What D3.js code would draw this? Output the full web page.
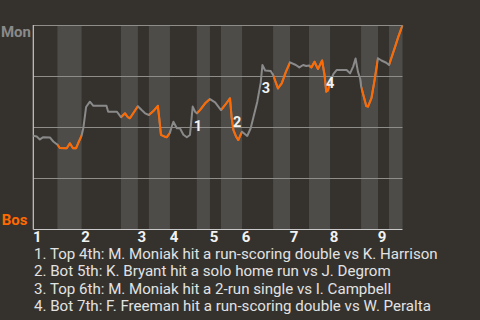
<!DOCTYPE html>
<html>
<head>
<meta charset="utf-8">
<script src="https://cdn.jsdelivr.net/npm/d3@7"></script>
<style>
  html, body { margin: 0; padding: 0; background: #35322e; }
  svg { display: block; }
</style>
</head>
<body>
<svg id="chart" width="480" height="320"></svg>
<script>
// ---- data ----
const teams = ["Mon", "Bos"];            // top = Mon win, bottom = Bos win
const inningLabels = ["1","2","3","4","5","6","7","8","9"];
// half-inning boundaries in play index (top1, bot1, top2, ... end)
const halfInningBounds = [0, 7, 14, 25.4, 30.3, 33.5, 39.6, 47.4, 51.2, 54.4, 60.5, 69.5, 74.4, 79.9, 86, 95, 99.9, 103.1, 107];
// play index of each win-probability point
const playIdx = [0,1,1.9,2.9,4.8,5.8,7,7.7,9.7,10.6,11.5,12.4,13.2,14,14.5,15.3,16.4,17.4,21.2,21.7,24.2,24.6,25.4,26.6,27.4,28,30.3,31.4,32.4,33.5,34.8,36.1,36.5,37,38.2,38.7,39.6,40.1,40.6,41.6,42.5,43.5,44.5,45.4,46.2,46.9,47.4,48.3,49.8,51.2,52.7,54.4,55.6,57,57.5,58,58.8,59.4,60.5,62,63,64.9,65.9,66.4,67.2,68.8,69.5,70.9,72,73.2,74.4,76.1,77.1,78.2,79.1,79.9,80.6,81.5,82.5,83.7,84.4,84.9,85.4,86,87,87.9,90.8,91.8,92.7,93.4,94.1,94.7,95,96.5,97,98,98.9,99.9,100.9,102.3,103.1,104.8,105.8,107];
// Mon win probability
const monWinProb = [0.457,0.453,0.439,0.450,0.449,0.429,0.413,0.397,0.396,0.420,0.396,0.396,0.428,0.457,0.495,0.598,0.624,0.604,0.604,0.575,0.575,0.567,0.548,0.567,0.548,0.543,0.602,0.583,0.567,0.559,0.578,0.604,0.543,0.461,0.452,0.450,0.471,0.501,0.526,0.494,0.494,0.462,0.450,0.461,0.600,0.575,0.567,0.583,0.616,0.637,0.621,0.583,0.608,0.641,0.543,0.485,0.452,0.436,0.477,0.456,0.494,0.623,0.716,0.804,0.777,0.775,0.755,0.689,0.714,0.770,0.817,0.804,0.792,0.804,0.799,0.801,0.792,0.820,0.784,0.826,0.755,0.673,0.679,0.721,0.760,0.779,0.779,0.763,0.796,0.836,0.770,0.739,0.699,0.603,0.600,0.641,0.730,0.837,0.826,0.815,0.804,0.890,0.943,0.998];
// key plays: label anchor (play index, probability)
const keyIdx = [47.7, 59.1, 67.4, 86.0];
const keyProb = [0.505, 0.526, 0.693, 0.716];
const keyLabels = ["1", "2", "3", "4"];
const keyTexts = [
  "1. Top 4th: M. Moniak hit a run-scoring double vs K. Harrison",
  "2. Bot 5th: K. Bryant hit a solo home run vs J. Degrom",
  "3. Top 6th: M. Moniak hit a 2-run single vs I. Campbell",
  "4. Bot 7th: F. Freeman hit a run-scoring double vs W. Peralta"
];
const gridTicks = [0, 0.25, 0.5, 0.75, 1];

// ---- chart ----
const svg = d3.select("#chart");
const W = 480, H = 320;
const m = { left: 33.3, right: 77.5, top: 25, bottom: 91 };
const font = "Roboto, 'Noto Sans', sans-serif";
const bg = "#35322e", band = "#4e4c49", gray = "#8a8a8a", orange = "#ff6a00";

svg.append("rect").attr("width", W).attr("height", H).attr("fill", bg);

const x = d3.scaleLinear().domain([0, 107]).range([m.left, W - m.right]);
const y = d3.scaleLinear().domain([0, 1]).range([H - m.bottom, m.top]);

// half-innings
const halves = d3.range(halfInningBounds.length - 1).map(i => ({
  i, x0: halfInningBounds[i], x1: halfInningBounds[i + 1], bottom: i % 2 === 1
}));
svg.append("g").selectAll("rect").data(halves.filter(d => d.bottom)).join("rect")
  .attr("x", d => x(d.x0)).attr("width", d => x(d.x1) - x(d.x0))
  .attr("y", y(1)).attr("height", y(0) - y(1))
  .attr("fill", band);

// grid lines
svg.append("g").selectAll("line").data(gridTicks.filter(t => t > 0)).join("line")
  .attr("x1", x(0)).attr("x2", x(107))
  .attr("y1", d => Math.round(y(d)) + 0.5).attr("y2", d => Math.round(y(d)) + 0.5)
  .attr("stroke", "#8f8d8a").attr("stroke-width", 1);

// axes lines
svg.append("line").attr("x1", x(0)).attr("x2", x(0)).attr("y1", y(1)).attr("y2", y(0) + 0.5)
  .attr("stroke", "#c8c8c8").attr("stroke-width", 1.2);
svg.append("line").attr("x1", x(0)).attr("x2", x(107)).attr("y1", y(0) + 0.5).attr("y2", y(0) + 0.5)
  .attr("stroke", "#c8c8c8").attr("stroke-width", 1.2);

// clip paths for bottom halves
const defs = svg.append("defs");
const clip = defs.append("clipPath").attr("id", "botclip");
clip.selectAll("rect").data(halves.filter(d => d.bottom)).join("rect")
  .attr("x", d => x(d.x0)).attr("width", d => x(d.x1) - x(d.x0))
  .attr("y", 0).attr("height", H);

const pts = playIdx.map((p, i) => [p, monWinProb[i]]);
const line = d3.line().x(d => x(d[0])).y(d => y(d[1]));
svg.append("path").datum(pts).attr("d", line)
  .attr("fill", "none").attr("stroke", gray).attr("stroke-width", 2).attr("stroke-linejoin", "round");
svg.append("path").datum(pts).attr("d", line).attr("clip-path", "url(#botclip)")
  .attr("fill", "none").attr("stroke", orange).attr("stroke-width", 2).attr("stroke-linejoin", "round");

// key play labels
svg.append("g").selectAll("text").data(keyLabels).join("text")
  .attr("x", (d, i) => x(keyIdx[i])).attr("y", (d, i) => y(keyProb[i]))
  .attr("text-anchor", "middle").attr("dy", "0.36em")
  .attr("font-family", font).attr("font-weight", "bold").attr("font-size", 14.5)
  .attr("fill", "#f2f2f2").text(d => d);

// team labels
svg.append("text").attr("x", 31).attr("y", 36.5).attr("text-anchor", "end")
  .attr("font-family", font).attr("font-weight", "bold").attr("font-size", 15)
  .attr("fill", "#8a8a8a").text(teams[0]);
svg.append("text").attr("x", 27.5).attr("y", 225).attr("text-anchor", "end")
  .attr("font-family", font).attr("font-weight", "bold").attr("font-size", 15)
  .attr("fill", orange).text(teams[1]);

// inning labels
svg.append("g").selectAll("text").data(inningLabels).join("text")
  .attr("x", (d, i) => x(halfInningBounds[i * 2]) + 4).attr("y", 242)
  .attr("text-anchor", "middle")
  .attr("font-family", font).attr("font-weight", "bold").attr("font-size", 15)
  .attr("fill", "#f2f2f2").text(d => d);

// key play descriptions
svg.append("g").selectAll("text").data(keyTexts).join("text")
  .attr("x", 34).attr("y", (d, i) => 258.5 + i * 17.6)
  .attr("font-family", font).attr("font-size", 15.1)
  .attr("fill", "#e2e2e2").text(d => d);
</script>
</body>
</html>
